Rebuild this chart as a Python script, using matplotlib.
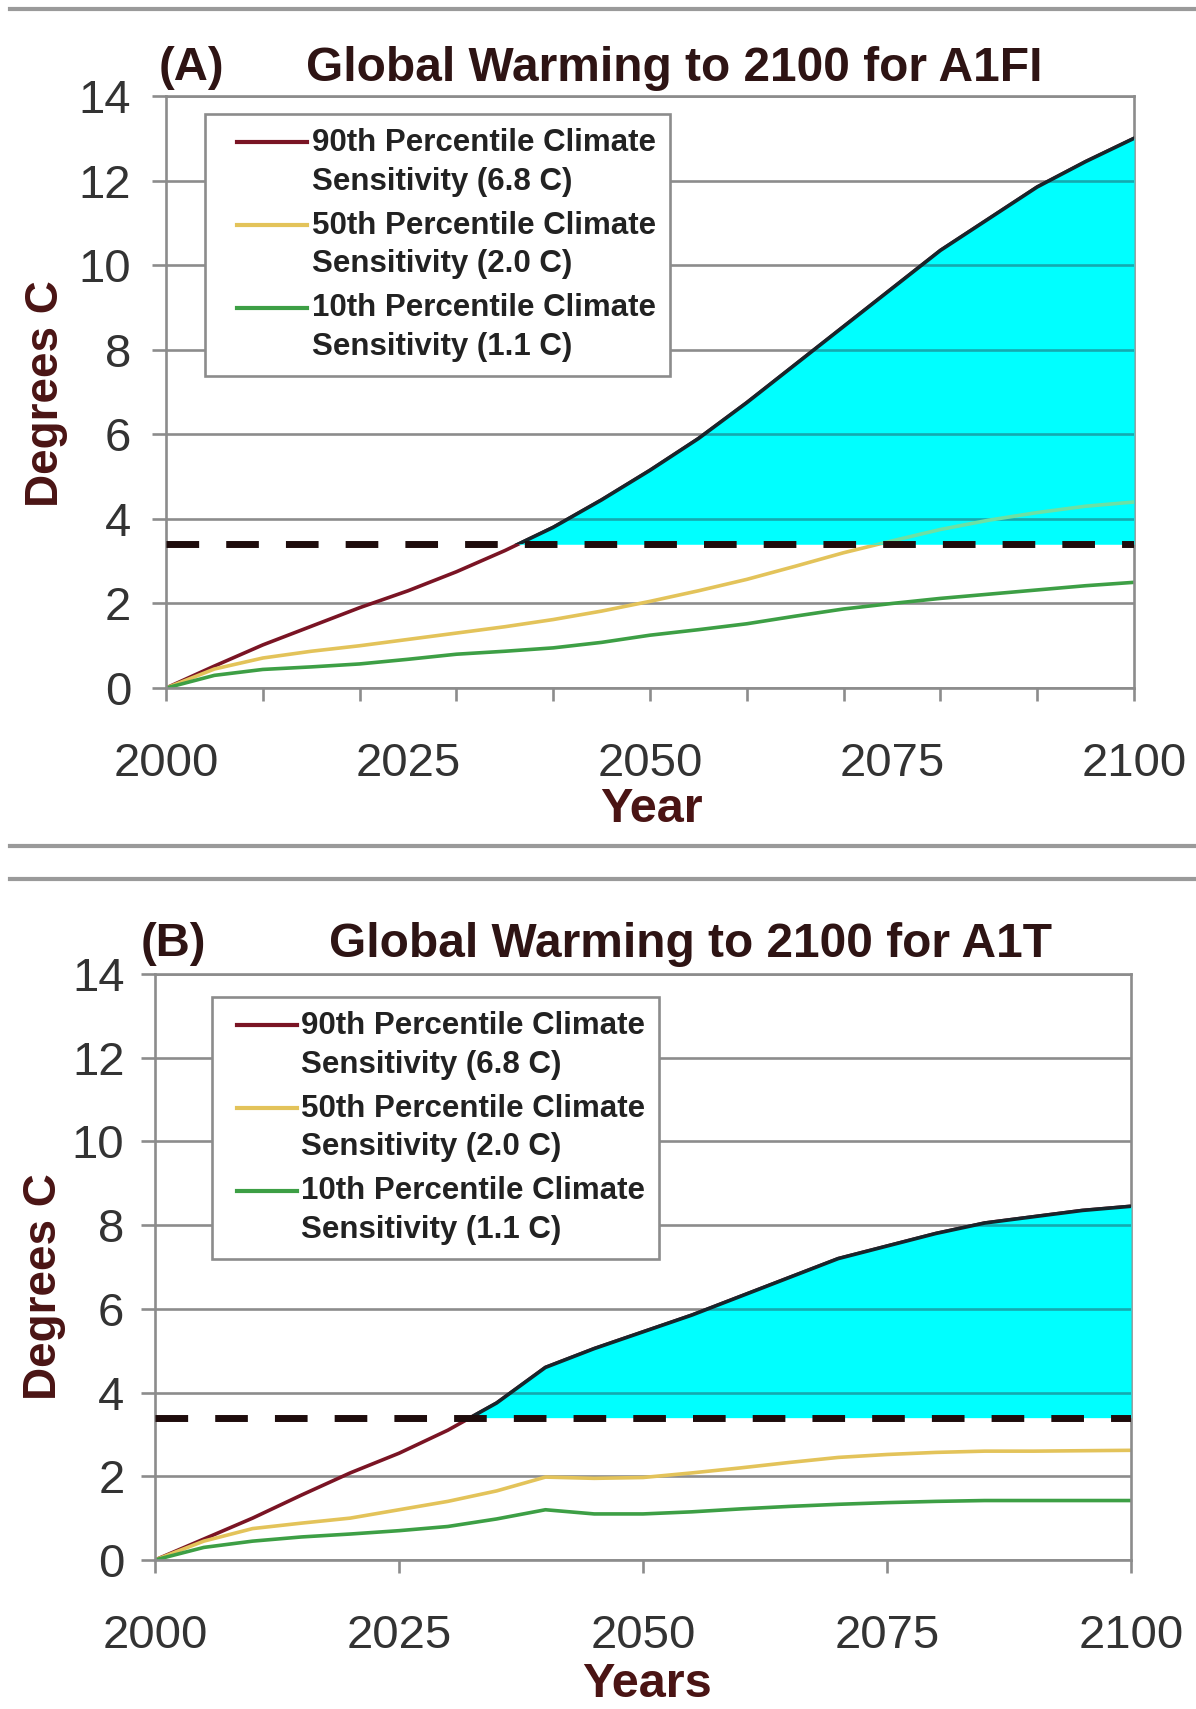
import numpy as np
import matplotlib
matplotlib.use("Agg")
import matplotlib.pyplot as plt
from matplotlib.legend_handler import HandlerLine2D
from matplotlib.lines import Line2D
from matplotlib.patches import Rectangle
from matplotlib.path import Path

plt.rcParams["font.family"] = ["Liberation Sans", "DejaVu Sans"]

# ---- data -------------------------------------------------------------
years = np.arange(2000, 2101, 5)

a1fi_p90 = [0, 0.52, 1.02, 1.46, 1.90, 2.30, 2.75, 3.25, 3.80, 4.45, 5.15,
            5.90, 6.75, 7.65, 8.55, 9.45, 10.35, 11.10, 11.85, 12.45, 13.00]
a1fi_p50 = [0, 0.45, 0.71, 0.87, 1.00, 1.15, 1.30, 1.45, 1.62, 1.82, 2.05,
            2.30, 2.57, 2.88, 3.20, 3.48, 3.75, 3.97, 4.15, 4.30, 4.40]
a1fi_p10 = [0, 0.30, 0.44, 0.50, 0.57, 0.68, 0.80, 0.87, 0.95, 1.08, 1.25,
            1.38, 1.52, 1.70, 1.87, 2.00, 2.12, 2.22, 2.32, 2.42, 2.50]

a1t_p90 = [0, 0.50, 1.00, 1.55, 2.08, 2.55, 3.10, 3.75, 4.60, 5.05, 5.45,
           5.85, 6.30, 6.75, 7.20, 7.50, 7.80, 8.05, 8.20, 8.35, 8.45]
a1t_p50 = [0, 0.45, 0.75, 0.88, 1.00, 1.20, 1.40, 1.65, 1.98, 1.95, 1.97,
           2.08, 2.20, 2.33, 2.45, 2.52, 2.57, 2.60, 2.60, 2.61, 2.62]
a1t_p10 = [0, 0.30, 0.45, 0.55, 0.62, 0.70, 0.80, 0.98, 1.20, 1.10, 1.10,
           1.15, 1.22, 1.28, 1.33, 1.37, 1.40, 1.42, 1.42, 1.42, 1.42]

threshold = 3.4

series_labels = ["90th Percentile Climate\nSensitivity (6.8 C)",
                 "50th Percentile Climate\nSensitivity (2.0 C)",
                 "10th Percentile Climate\nSensitivity (1.1 C)"]
x_tick_labels = ["2000", "2025", "2050", "2075", "2100"]
y_ticks = [0, 2, 4, 6, 8, 10, 12, 14]

# ---- styling ----------------------------------------------------------
C_P90 = "#7a1424"
C_P50 = "#e3c35a"
C_P10 = "#3d9f45"
C_EDGE = "#16262c"
C_FILL = "#00ffff"
C_GRID = "#8c8c8c"
C_GRID_IN_FILL = "#14aab0"
C_P50_IN_FILL = "#6ee0a4"
C_DASH = "#1e0c0c"
C_TITLE = "#2e1414"
C_AXLABEL = "#4a1414"
C_TICK = "#333333"
LW = 2.6


class FirstLineHandler(HandlerLine2D):
    """Legend sample level with the first text line, inset from the frame."""

    def __init__(self, lift, inset, **kw):
        super().__init__(**kw)
        self.lift = lift
        self.inset = inset

    def create_artists(self, legend, orig_handle, xdescent, ydescent,
                       width, height, fontsize, trans):
        arts = super().create_artists(legend, orig_handle, xdescent, ydescent,
                                      width, height, fontsize, trans)
        for a in arts:
            a.set_ydata(np.asarray(a.get_ydata()) + self.lift * fontsize)
            xd = np.asarray(a.get_xdata(), float)
            if xd.size >= 2:
                a.set_xdata(np.linspace(xd[0] + self.inset * fontsize,
                                        xd[-1], xd.size))
        return arts


fig = plt.figure(figsize=(11.96, 17.09), dpi=100)
fig.patch.set_facecolor("white")


def draw_panel(ax, p90, p50, p10, letter, title, xlabel, every10,
               legend_anchor, legend_handle, tag_pos, title_pos, ylabel_pos,
               xlabel_pos, ytick_pad):
    x = years
    p90 = np.asarray(p90, float)
    p50 = np.asarray(p50, float)
    p10 = np.asarray(p10, float)

    ax.set_xlim(2000, 2100)
    ax.set_ylim(0, 14)
    ax.set_facecolor("white")

    for y in y_ticks:
        ax.axhline(y, color=C_GRID, lw=1.9, zorder=0.5)

    l90, = ax.plot(x, p90, color=C_P90, lw=LW, zorder=2)
    l50, = ax.plot(x, p50, color=C_P50, lw=LW, zorder=2)
    l10, = ax.plot(x, p10, color=C_P10, lw=LW, zorder=2)

    # shaded region where warming exceeds the threshold
    poly = ax.fill_between(x, threshold, p90, where=p90 >= threshold,
                           interpolate=True, color=C_FILL, lw=0, zorder=3)
    region = Path.make_compound_path(*poly.get_paths())

    for y in y_ticks[1:]:
        g = ax.axhline(y, color=C_GRID_IN_FILL, lw=1.9, zorder=3.1)
        g.set_clip_path(region, poly.get_transform())
    inner50, = ax.plot(x, p50, color=C_P50_IN_FILL, lw=LW, zorder=3.2)
    inner50.set_clip_path(region, poly.get_transform())

    above = Rectangle((2000, threshold), 100, 14 - threshold,
                      transform=ax.transData)
    edge, = ax.plot(x, p90, color=C_EDGE, lw=LW, zorder=3.5)
    edge.set_clip_path(above)

    ax.axhline(threshold, color=C_DASH, lw=5, dashes=(4.7, 3.9), zorder=4)

    # axes frame and ticks
    for side in ("left", "bottom", "right", "top"):
        ax.spines[side].set_color(C_GRID)
        ax.spines[side].set_linewidth(1.9)
    ax.set_yticks(y_ticks)
    ax.set_yticklabels([str(v) for v in y_ticks])
    ax.tick_params(axis="y", direction="out", length=10, width=1.9,
                   color=C_GRID, labelsize=34, labelcolor=C_TICK, pad=ytick_pad)
    ax.set_xticks([2000, 2025, 2050, 2075, 2100])
    ax.set_xticklabels(x_tick_labels)
    if every10:
        ax.set_xticks(np.arange(2000, 2101, 10), minor=True)
        ax.xaxis.remove_overlapping_locs = False
        ax.tick_params(axis="x", which="major", length=0, pad=39,
                       labelsize=34, labelcolor=C_TICK)
        ax.tick_params(axis="x", which="minor", length=9, width=1.9,
                       color=C_GRID, direction="out")
    else:
        ax.tick_params(axis="x", which="major", length=9, width=1.9,
                       color=C_GRID, direction="out", pad=30,
                       labelsize=34, labelcolor=C_TICK)

    ax.set_ylabel("Degrees C", fontsize=33, fontweight="bold", color=C_AXLABEL)
    ax.yaxis.set_label_coords(*ylabel_pos)
    ax.yaxis.label.set_va("center")
    ax.set_xlabel(xlabel, fontsize=35, fontweight="bold", color=C_AXLABEL)
    ax.xaxis.set_label_coords(*xlabel_pos)
    ax.xaxis.label.set_va("center")

    ax.text(*tag_pos, letter, transform=ax.transAxes, ha="center",
            va="center", fontsize=34, fontweight="bold", color=C_TITLE)
    ax.text(*title_pos, title, transform=ax.transAxes, ha="center",
            va="center", fontsize=34.5, fontweight="bold", color=C_TITLE)

    hlen, inset = legend_handle
    leg = ax.legend([l90, l50, l10], series_labels, loc="upper left",
                    bbox_to_anchor=legend_anchor, borderaxespad=0,
                    frameon=True, fancybox=False, framealpha=1,
                    edgecolor=C_GRID, facecolor="white",
                    prop=dict(size=22.5, weight="bold"),
                    handlelength=hlen, handletextpad=0.15,
                    labelspacing=0.45, borderpad=0.45,
                    handler_map={Line2D: FirstLineHandler(0.66, inset)})
    leg.get_frame().set_linewidth(1.9)
    leg.set_zorder(6)
    for t in leg.get_texts():
        t.set_linespacing(1.38)
        t.set_color("#222222")
    for h in leg.legend_handles:
        h.set_linewidth(3.0)


ax1 = fig.add_axes([0.1388, 0.5974, 0.8094, 0.3464])
draw_panel(ax1, a1fi_p90, a1fi_p50, a1fi_p10, "(A)",
           "Global Warming to 2100 for A1FI", "Year", True,
           legend_anchor=(0.040, 0.970), legend_handle=(2.82, 0.58),
           tag_pos=(0.026, 1.047), title_pos=(0.525, 1.047),
           ylabel_pos=(-0.124, 0.498), xlabel_pos=(0.501, -0.205),
           ytick_pad=15)

ax2 = fig.add_axes([0.1296, 0.0872, 0.8161, 0.3429])
draw_panel(ax2, a1t_p90, a1t_p50, a1t_p10, "(B)",
           "Global Warming to 2100 for A1T", "Years", False,
           legend_anchor=(0.058, 0.961), legend_handle=(2.27, 0.35),
           tag_pos=(0.019, 1.051), title_pos=(0.549, 1.051),
           ylabel_pos=(-0.114, 0.466), xlabel_pos=(0.504, -0.212),
           ytick_pad=12)

# panel separators
for yf in (1 - 9 / 1709, 1 - 846 / 1709, 1 - 879 / 1709):
    fig.add_artist(Line2D([0.008, 1.0], [yf, yf], transform=fig.transFigure,
                          color="#9a9a9a", lw=3))

fig.savefig("out.png", dpi=100, facecolor="white")
